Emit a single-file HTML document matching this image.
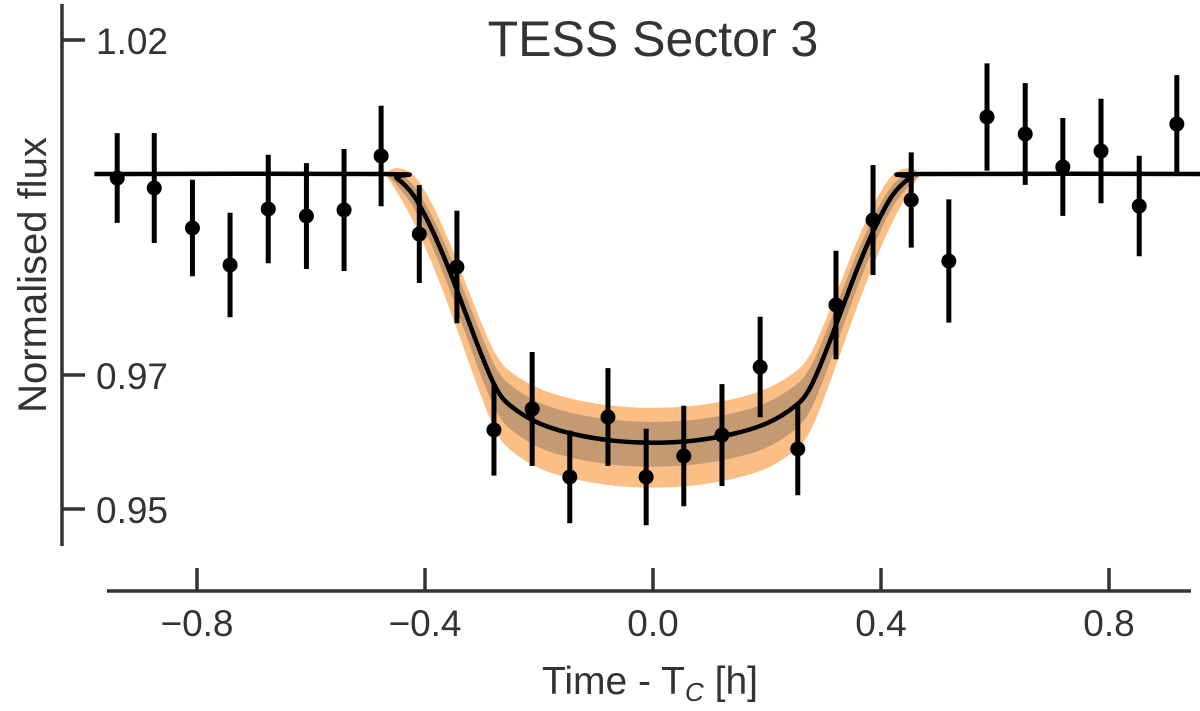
<!DOCTYPE html>
<html><head><meta charset="utf-8"><style>
body{margin:0;background:#fff;}
svg{display:block;font-family:"Liberation Sans",sans-serif;}
</style></head><body>
<svg id="chart" width="1200" height="711" viewBox="0 0 1200 711">
<g id="bands"></g>
<g id="model"></g>
<g id="points"></g>
<g id="axes"></g>
<text x="653" y="56" font-size="50" text-anchor="middle" fill="#333">TESS Sector 3</text>
<text transform="translate(46,275) rotate(-90)" font-size="40" text-anchor="middle" fill="#333">Normalised flux</text>
<text x="650" y="694" font-size="39" text-anchor="middle" fill="#333">Time - T<tspan font-size="26" dy="7" font-style="italic">C</tspan><tspan dy="-7"> [h]</tspan></text>
</svg>
<script>
const times=[-0.940,-0.875,-0.808,-0.742,-0.675,-0.608,-0.542,-0.477,-0.410,-0.344,-0.279,-0.212,-0.146,-0.079,-0.012,0.054,0.121,0.188,0.254,0.321,0.386,0.453,0.519,0.586,0.653,0.719,0.786,0.853,0.919];
const fluxes=[0.99940,0.99791,0.99194,0.98642,0.99478,0.99373,0.99463,1.00269,0.99104,0.98612,0.96179,0.96493,0.95478,0.96373,0.95478,0.95791,0.96104,0.97119,0.95896,0.98045,0.99313,0.99612,0.98701,1.00851,1.00597,1.00105,1.00343,0.99522,1.00746];
const errors=[0.0067,0.0082,0.0072,0.0078,0.0081,0.0079,0.0091,0.0075,0.0073,0.0084,0.0068,0.0085,0.0069,0.0073,0.0072,0.0075,0.0076,0.0075,0.0069,0.0081,0.0082,0.0071,0.0092,0.0080,0.0076,0.0073,0.0078,0.0075,0.0073];
const modelT=[-0.98,-0.47,-0.45,-0.42,-0.39,-0.36,-0.33,-0.30,-0.275,-0.25,-0.20,-0.14,-0.07,0,0.07,0.14,0.20,0.25,0.275,0.30,0.33,0.36,0.39,0.42,0.45,0.47,0.98];
const modelF=[1.0,1.0,0.9994,0.9968,0.9921,0.9862,0.9795,0.9728,0.9680,0.9654,0.9628,0.9612,0.9602,0.9599,0.9602,0.9612,0.9628,0.9654,0.9680,0.9728,0.9795,0.9862,0.9921,0.9968,0.9994,1.0,1.0];
const outerUp=[0,0,0.0015,0.0030,0.0038,0.0042,0.0045,0.0048,0.0050,0.0051,0.0052,0.0052,0.0052,0.0052,0.0052,0.0052,0.0052,0.0051,0.0050,0.0048,0.0045,0.0042,0.0038,0.0030,0.0015,0,0];
const outerLo=[0,0,0.0020,0.0040,0.0050,0.0056,0.0060,0.0063,0.0065,0.0066,0.0067,0.0067,0.0067,0.0067,0.0067,0.0067,0.0067,0.0066,0.0065,0.0063,0.0060,0.0056,0.0050,0.0040,0.0020,0,0];
const innerUp=[0,0,0.0008,0.0015,0.0020,0.0024,0.0027,0.0029,0.0030,0.0031,0.0031,0.0031,0.0031,0.0031,0.0031,0.0031,0.0031,0.0031,0.0030,0.0029,0.0027,0.0024,0.0020,0.0015,0.0008,0,0];
const innerLo=[0,0,0.0010,0.0018,0.0024,0.0028,0.0031,0.0033,0.0034,0.0035,0.0036,0.0036,0.0036,0.0036,0.0036,0.0036,0.0036,0.0035,0.0034,0.0033,0.0031,0.0028,0.0024,0.0018,0.0010,0,0];
const xTicks=[-0.8,-0.4,0.0,0.4,0.8];
const xTickLabels=["\u22120.8","\u22120.4","0.0","0.4","0.8"];
const yTicks=[1.02,0.97,0.95];
const yTickLabels=["1.02","0.97","0.95"];

const NS="http://www.w3.org/2000/svg";
const X=t=>653+t*570;
const Y=f=>40+(1.02-f)*6700;
function mk(tag,attrs,parent){const e=document.createElementNS(NS,tag);for(const k in attrs)e.setAttribute(k,attrs[k]);parent.appendChild(e);return e;}
function smooth(pts){
  let d="M"+pts[0][0].toFixed(1)+","+pts[0][1].toFixed(1);
  for(let i=0;i<pts.length-1;i++){
    const p0=pts[Math.max(0,i-1)],p1=pts[i],p2=pts[i+1],p3=pts[Math.min(pts.length-1,i+2)];
    const c1=[p1[0]+(p2[0]-p0[0])/6,p1[1]+(p2[1]-p0[1])/6];
    const c2=[p2[0]-(p3[0]-p1[0])/6,p2[1]-(p3[1]-p1[1])/6];
    d+=" C"+c1[0].toFixed(1)+","+c1[1].toFixed(1)+" "+c2[0].toFixed(1)+","+c2[1].toFixed(1)+" "+p2[0].toFixed(1)+","+p2[1].toFixed(1);
  }
  return d;
}
function bandPath(up,lo){
  const a=[],b=[];
  for(let i=1;i<modelT.length-1;i++){a.push([X(modelT[i]),Y(modelF[i]+up[i])]);}
  for(let i=modelT.length-2;i>=1;i--){b.push([X(modelT[i]),Y(modelF[i]-lo[i])]);}
  return smooth(a)+" L"+smooth(b).slice(1)+" Z";
}
const bands=document.getElementById('bands');
let b1=mk('path',{d:bandPath(outerUp,outerLo),fill:"#fbbf86",stroke:"none"},bands);


let b2=mk('path',{d:bandPath(innerUp,innerLo),fill:"#c49a73",stroke:"none"},bands);


const model=document.getElementById('model');
let ml=mk('path',{d:smooth(modelT.map((t,i)=>[X(t),Y(modelF[i])])),fill:"none",stroke:"#000","stroke-width":4.5,"stroke-linejoin":"round"},model);


const pts=document.getElementById('points');
times.forEach((t,i)=>{
  const g=mk('g',{},pts);
  
  
  const l=mk('line',{x1:X(t),x2:X(t),y1:Y(fluxes[i]+errors[i]),y2:Y(fluxes[i]-errors[i]),stroke:"#000","stroke-width":5},g);
  
  
  const c=mk('circle',{cx:X(t),cy:Y(fluxes[i]),r:7.5,fill:"#000"},g);
  
  
});
const ax=document.getElementById('axes');
let ya=mk('line',{x1:62,x2:62,y1:4,y2:546,stroke:"#333","stroke-width":3.5},ax);


let xa=mk('line',{x1:107,x2:1191,y1:591,y2:591,stroke:"#333","stroke-width":3.5},ax);


yTicks.forEach((v,i)=>{
  const tk=mk('line',{x1:62,x2:85,y1:Y(v),y2:Y(v),stroke:"#333","stroke-width":3.5},ax);
  
  
  const tx=mk('text',{x:96,y:Y(v)+14,"font-size":37,fill:"#333"},ax);
  tx.textContent=yTickLabels[i];
  
  
});
xTicks.forEach((v,i)=>{
  const tk=mk('line',{x1:X(v),x2:X(v),y1:568,y2:591,stroke:"#333","stroke-width":3.5},ax);
  
  
  const tx=mk('text',{x:X(v),y:636,"font-size":37,fill:"#333","text-anchor":"middle"},ax);
  tx.textContent=xTickLabels[i];
  
  
});
</script>
</body></html>
